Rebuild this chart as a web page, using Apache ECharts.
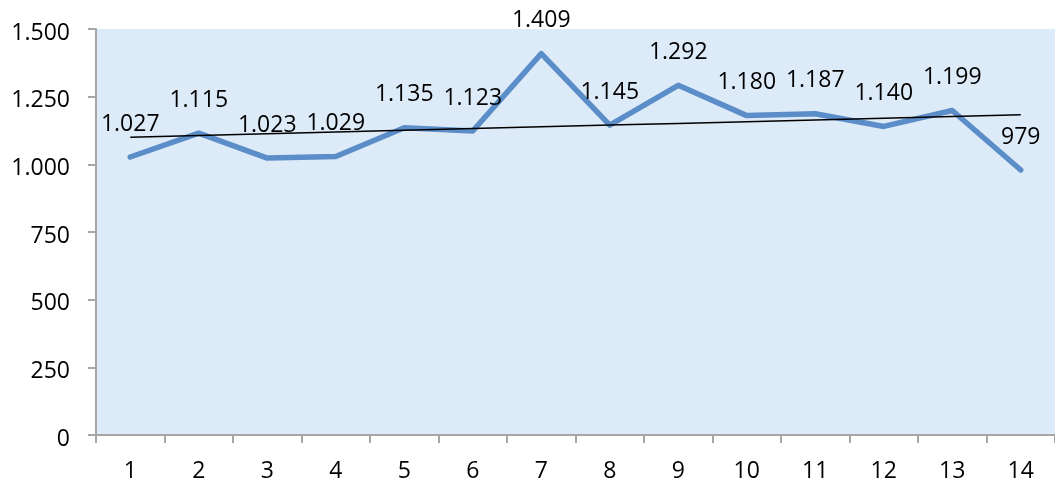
<!DOCTYPE html>
<html><head><meta charset="utf-8">
<script src="https://cdn.jsdelivr.net/npm/echarts@6/dist/echarts.min.js"></script>
<style>html,body{margin:0;padding:0;background:#fff}#c{width:1055px;height:483px}</style>
</head><body><div id="c"></div>
<script>
const categories = ['1','2','3','4','5','6','7','8','9','10','11','12','13','14'];
const values = [1027,1115,1023,1029,1135,1123,1409,1145,1292,1180,1187,1140,1199,979];
const yTicks = {min:0, max:1500, interval:250};

// linear trend (least squares) derived from the values
const n = values.length;
const xm = (n + 1) / 2;
const ym = values.reduce((a,b)=>a+b,0) / n;
let sxy = 0, sxx = 0;
values.forEach((v,i)=>{ const dx = (i+1) - xm; sxy += dx*(v-ym); sxx += dx*dx; });
const slope = sxy / sxx;
const trend = values.map((v,i)=> ym + slope*((i+1) - xm));

const fmt = v => String(Math.round(v)).replace(/\B(?=(\d{3})+(?!\d))/g, '.');
const FONT = 'Open Sans';

const chart = echarts.init(document.getElementById('c'));
chart.setOption({
  animation: false,
  grid: {left: 96, right: -11, top: 29, bottom: 48, show: true, backgroundColor: '#DDEAF8', borderWidth: 0},
  xAxis: {
    type: 'category', data: categories, boundaryGap: true,
    axisLine: {lineStyle: {color: '#A6A6A6', width: 2}},
    axisTick: {show: true, length: 8, lineStyle: {color: '#A6A6A6', width: 2}},
    axisLabel: {color: '#000', fontFamily: FONT, fontSize: 23, margin: 25}
  },
  yAxis: {
    type: 'value', min: yTicks.min, max: yTicks.max, interval: yTicks.interval,
    axisLine: {show: true, lineStyle: {color: '#A6A6A6', width: 2}},
    axisTick: {show: true, length: 8, lineStyle: {color: '#A6A6A6', width: 2}},
    splitLine: {show: false},
    axisLabel: {
      color: '#000', fontFamily: FONT, fontSize: 23, margin: 26,
      formatter: v => '{a|' + fmt(v) + '}',
      rich: {a: {color: '#000', fontFamily: FONT, fontSize: 23, padding: [8,0,0,0]}}
    }
  },
  series: [
    {
      type: 'line', data: values, symbol: 'circle', symbolSize: 1, showSymbol: true, z: 3,
      itemStyle: {color: '#5B8DC9'},
      lineStyle: {color: '#5B8DC9', width: 5.5, cap: 'round', join: 'round'},
      label: {show: true, position: 'top', distance: 21, color: '#000', fontFamily: FONT, fontSize: 23, formatter: p => fmt(p.value)},
      labelLayout: {hideOverlap: false}
    },
    {
      type: 'line', data: trend, symbol: 'none', z: 4, silent: true,
      lineStyle: {color: '#000', width: 1.5}
    }
  ]
});
</script></body></html>
